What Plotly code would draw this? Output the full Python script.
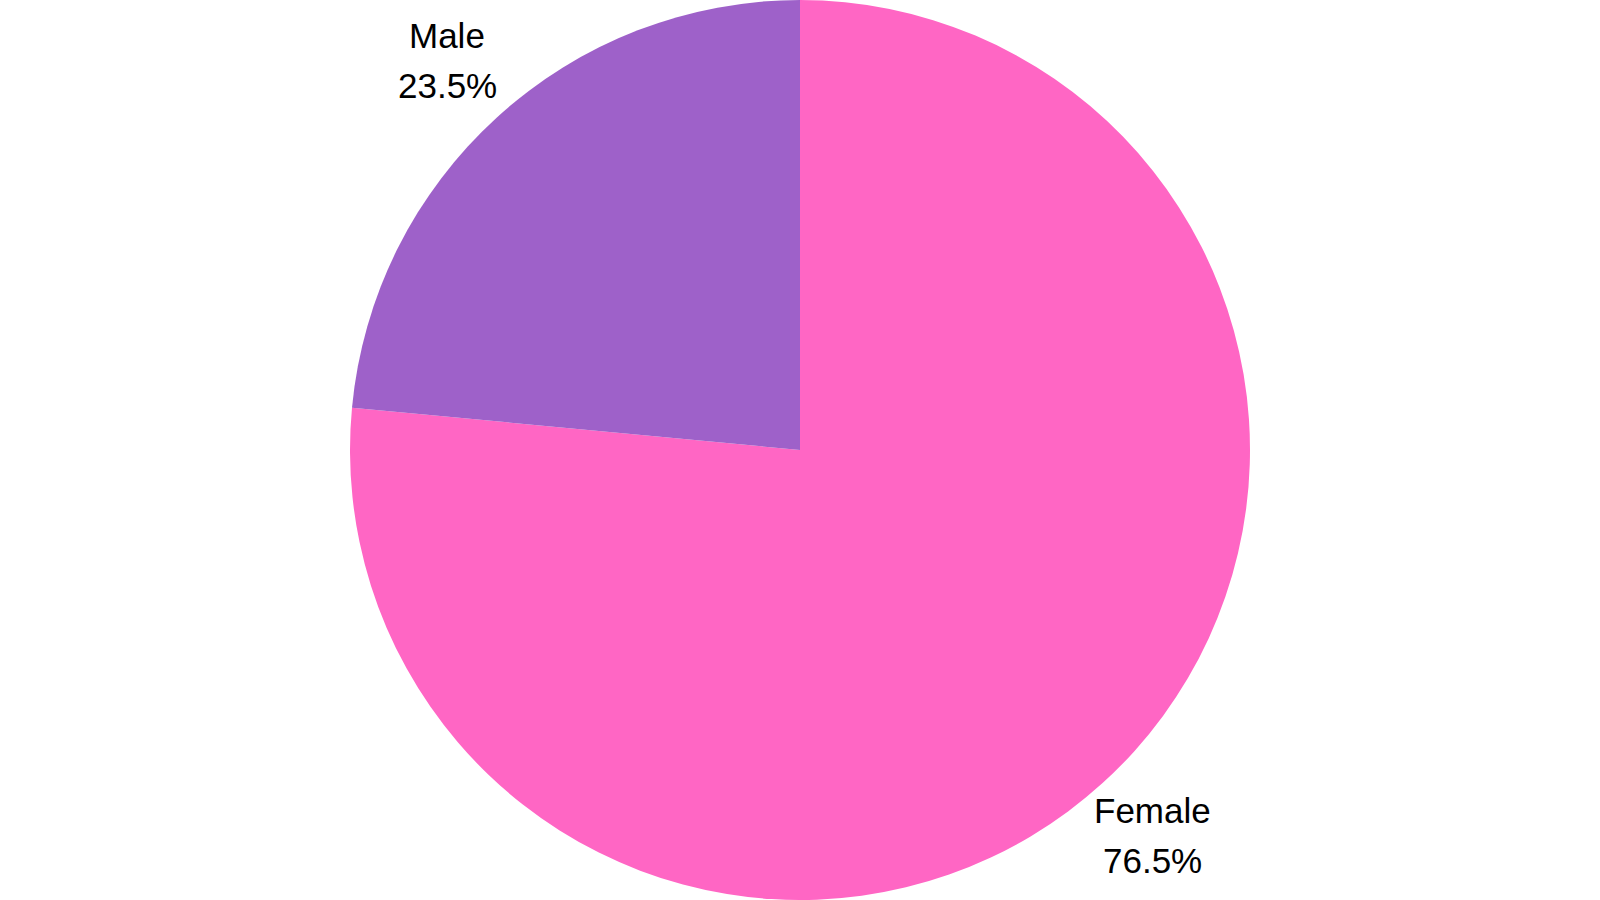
import math
import plotly.graph_objects as go

labels = ["Female", "Male"]
values = [76.5, 23.5]
colors = ["#ff66c4", "#9e61c9"]

W, H = 1600, 900
FONT = dict(family="Liberation Sans, Arial, sans-serif", size=35, color="#000000")

fig = go.Figure(go.Pie(
    labels=labels,
    values=values,
    sort=False,
    direction="clockwise",
    rotation=0,
    marker=dict(colors=colors, line=dict(width=0)),
    textinfo="none",
    showlegend=False,
    hoverinfo="label+percent",
    domain=dict(x=[0, 1], y=[0, 1]),
))

# outside labels placed along each slice's bisector
total = sum(values)
radius_px = min(W, H) / 2
label_r = radius_px * 1.165
line_gap = 25
base_shift = 2
cum = 0.0
annotations = []
for lab, v in zip(labels, values):
    mid = (cum + v / 2) / total
    cum += v
    theta = 2 * math.pi * mid
    x = 0.5 + label_r * math.sin(theta) / W
    y = 0.5 + label_r * math.cos(theta) / H
    pct = f"{v / total * 100:.1f}%"
    for txt, shift in ((lab, line_gap), (pct, -line_gap)):
        annotations.append(dict(
            x=x, y=y, xref="paper", yref="paper", text=txt, showarrow=False,
            xanchor="center", yanchor="middle", yshift=shift + base_shift, font=FONT,
        ))

fig.update_layout(
    width=W,
    height=H,
    margin=dict(l=0, r=0, t=0, b=0, pad=0),
    paper_bgcolor="#ffffff",
    plot_bgcolor="#ffffff",
    annotations=annotations,
)

fig.write_html(
    "out.html",
    config={"displayModeBar": False},
    post_script="document.body.style.margin='0';document.body.style.overflow='hidden';",
)
